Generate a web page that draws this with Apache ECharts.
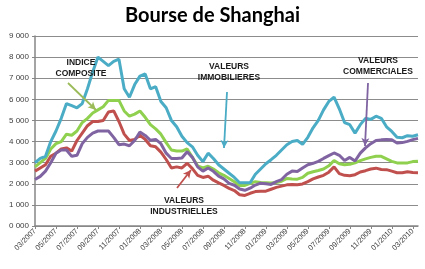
<!DOCTYPE html>
<html><head><meta charset="utf-8">
<script src="https://cdn.jsdelivr.net/npm/echarts@6/dist/echarts.min.js"></script>
<style>html,body{margin:0;padding:0;background:#fff}#c{width:425px;height:269px}</style>
</head><body><div id="c"></div>
<script>
// half-monthly observation dates, 03/2007 -> 03/2010
const categories = [
'2007-03-01','2007-03-16','2007-04-01','2007-04-16','2007-05-01','2007-05-16','2007-06-01','2007-06-16',
'2007-07-01','2007-07-16','2007-08-01','2007-08-16','2007-09-01','2007-09-16','2007-10-01','2007-10-16',
'2007-11-01','2007-11-16','2007-12-01','2007-12-16','2008-01-01','2008-01-16','2008-02-01','2008-02-16',
'2008-03-01','2008-03-16','2008-04-01','2008-04-16','2008-05-01','2008-05-16','2008-06-01','2008-06-16',
'2008-07-01','2008-07-16','2008-08-01','2008-08-16','2008-09-01','2008-09-16','2008-10-01','2008-10-16',
'2008-11-01','2008-11-16','2008-12-01','2008-12-16','2009-01-01','2009-01-16','2009-02-01','2009-02-16',
'2009-03-01','2009-03-16','2009-04-01','2009-04-16','2009-05-01','2009-05-16','2009-06-01','2009-06-16',
'2009-07-01','2009-07-16','2009-08-01','2009-08-16','2009-09-01','2009-09-16','2009-10-01','2009-10-16',
'2009-11-01','2009-11-16','2009-12-01','2009-12-16','2010-01-01','2010-01-16','2010-02-01','2010-02-16',
'2010-03-01','2010-03-16'];
const tickLabels = ['03/2007','05/2007','07/2007','09/2007','11/2007','01/2008','03/2008','05/2008','07/2008',
'09/2008','11/2008','01/2009','03/2009','05/2009','07/2009','09/2009','11/2009','01/2010','03/2010'];
const yTickLabels = ['0 000','1 000','2 000','3 000','4 000','5 000','6 000','7 000','8 000','9 000'];

const indiceComposite = [2800,3000,3200,3650,3900,4000,4350,4300,4500,4900,5100,5350,5500,5650,5950,5950,
5950,5450,5200,5300,5450,5150,4800,4600,4350,3950,3600,3550,3550,3650,3250,2850,2750,2830,2700,2520,
2400,2250,2100,1920,1920,2020,2100,2060,2050,2040,2060,2120,2250,2230,2220,2300,2500,2570,2630,2700,
2850,3100,2950,2900,2920,2990,3100,3180,3250,3300,3300,3180,3060,2990,2990,2990,3050,3070];
const valeursIndustrielles = [2600,2750,2900,3300,3450,3650,3700,3550,4050,4400,4750,4950,4950,5000,5400,5450,
4950,4350,4050,4100,4300,4100,3800,3750,3500,3150,2750,2800,2750,2970,2720,2400,2300,2360,2170,2040,
1920,1780,1680,1480,1450,1550,1630,1650,1650,1740,1830,1890,1950,1970,1950,1990,2100,2230,2320,2400,
2550,2800,2480,2400,2380,2430,2560,2620,2700,2740,2680,2670,2600,2520,2520,2570,2530,2520];
const valeursCommerciales = [2200,2350,2600,3000,3450,3600,3600,3300,3350,3900,4200,4400,4500,4500,4500,4200,
3850,3880,3800,4050,4450,4290,4060,4100,3900,3450,3200,3200,3220,3520,3250,2800,2600,2750,2590,2360,
2230,2020,1930,1750,1690,1790,1940,2030,2000,1970,2100,2200,2450,2600,2580,2750,2900,2970,3060,3200,
3330,3460,3350,3100,3250,3080,3450,3700,3900,4050,4080,4100,4090,3930,3950,4010,4090,4150];
const valeursImmobilieres = [3000,3200,3300,4000,4500,5100,5800,5700,5600,5800,6500,7300,8000,7800,7600,7800,
7900,6500,6100,6700,7100,7200,6500,6600,5900,5600,5000,4700,4250,3950,3750,3350,3050,3450,3200,2900,
2700,2500,2300,2050,2050,2050,2450,2700,2950,3140,3350,3600,3850,4000,4050,3870,4200,4650,5000,5500,
5900,6100,5550,4900,4800,4400,4800,5100,5050,5200,5100,4700,4480,4200,4180,4280,4250,4320];

const C_GREEN='#8fd14f', C_RED='#c0504d', C_PURPLE='#8064a2', C_BLUE='#4bacc6';
const chart = echarts.init(document.getElementById('c'), null, {renderer:'canvas'});
const lbl = {fontFamily:'Liberation Sans', fontWeight:'bold', fontSize:8.5, fill:'#1a1a1a', align:'center', lineHeight:11};
function arrow(color, p1, p2){
  return {silent:true, symbol:['none','arrow'], symbolSize:[6,8], label:{show:false},
    lineStyle:{color:color, width:1.8, type:'solid'}, data:[[{x:p1[0],y:p1[1]},{x:p2[0],y:p2[1]}]]};
}
function ser(name, data, color, ml){
  const s = {name, type:'line', data, showSymbol:false, symbol:'none', smooth:false,
    lineStyle:{color, width:3}, itemStyle:{color}, animation:false};
  if(ml) s.markLine = ml;
  return s;
}
chart.setOption({
  animation:false,
  title:{text:'Bourse de Shanghai', left:'center', top:1,
    textStyle:{fontFamily:'Lato', fontWeight:'bold', fontSize:20, color:'#000'}},
  grid:{left:35, right:7, top:36, bottom:43, containLabel:false},
  xAxis:{type:'category', data:categories, boundaryGap:false,
    axisLine:{lineStyle:{color:'#868686', width:1.5}},
    axisTick:{show:true, interval:(i)=>i%4===0, length:3, lineStyle:{color:'#868686'}},
    axisLabel:{interval:(i)=>i%4===0, rotate:45, fontFamily:'Liberation Sans', fontSize:7.5, color:'#404040', margin:4,
      formatter:(v,i)=>tickLabels[Math.round(i/4)]},
    splitLine:{show:false}},
  yAxis:{type:'value', min:0, max:9000, interval:1000,
    axisLine:{show:true, lineStyle:{color:'#868686', width:1.5}},
    axisTick:{show:true, length:3, lineStyle:{color:'#868686'}},
    axisLabel:{fontFamily:'Liberation Sans', fontSize:8, color:'#404040', margin:6,
      formatter:(v)=>yTickLabels[Math.round(v/1000)]},
    splitLine:{lineStyle:{color:'#8c8c8c', width:1}}},
  series:[
    ser('Indice composite', indiceComposite, C_GREEN, arrow('#9bbb59',[68,83],[96,110])),
    ser('Valeurs industrielles', valeursIndustrielles, C_RED, arrow(C_RED,[177,188],[191,170])),
    ser('Valeurs commerciales', valeursCommerciales, C_PURPLE, arrow(C_PURPLE,[368,83],[365,146])),
    ser('Valeurs immobilières', valeursImmobilieres, C_BLUE, arrow(C_BLUE,[227,92],[224,148]))
  ],
  graphic:[
    {type:'text', x:81, y:57, style:Object.assign({text:'INDICE\nCOMPOSITE'}, lbl), z:100},
    {type:'text', x:229, y:61, style:Object.assign({text:'VALEURS\nIMMOBILIERES'}, lbl), z:100},
    {type:'text', x:378, y:55, style:Object.assign({text:'VALEURS\nCOMMERCIALES'}, lbl), z:100},
    {type:'text', x:184, y:195, style:Object.assign({text:'VALEURS\nINDUSTRIELLES'}, lbl), z:100}
  ]
});
</script></body></html>
